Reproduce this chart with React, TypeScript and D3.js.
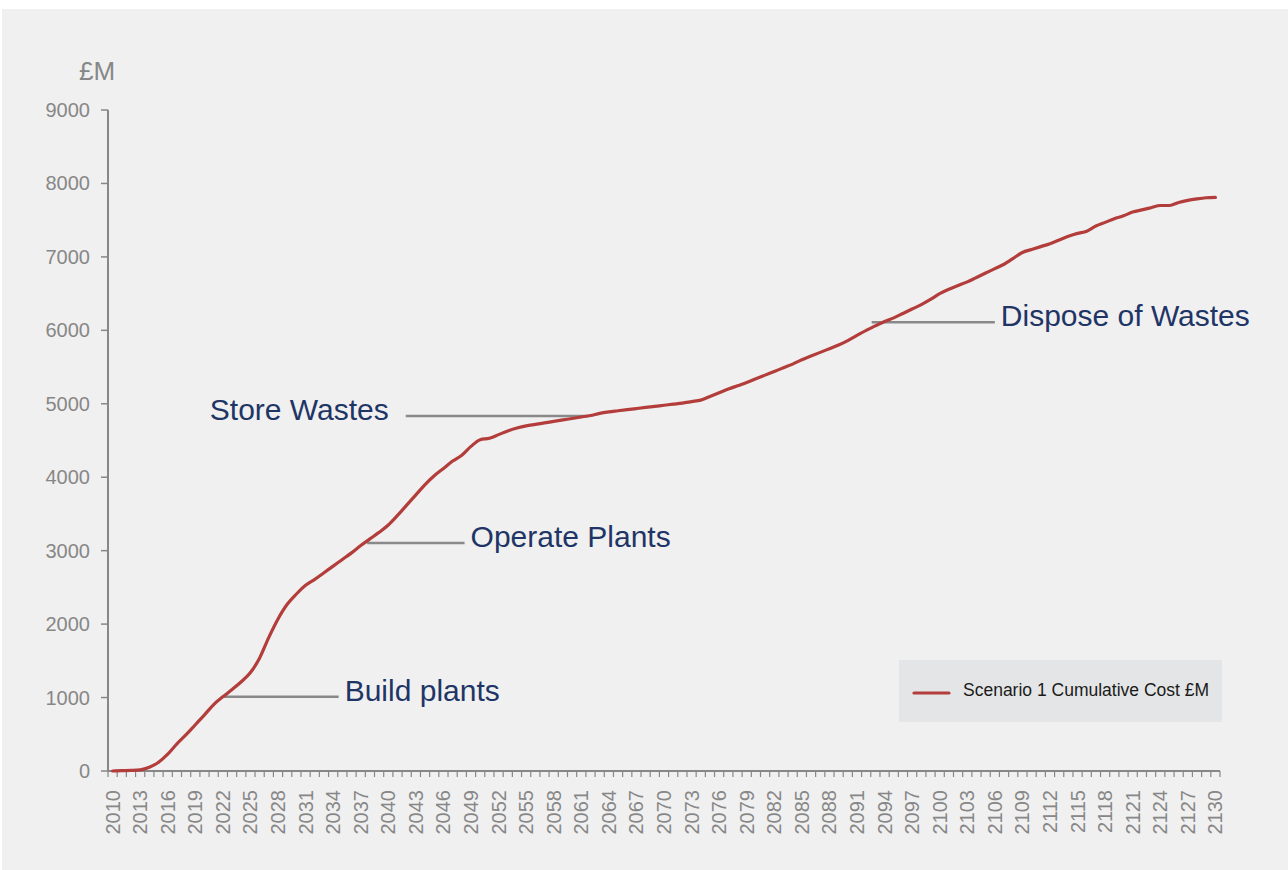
import React from "react";
import * as d3 from "d3";

const startYear = 2010;
const endYear = 2130;

// Scenario 1 cumulative cost (£M), one value per year 2010..2130
const cumulativeCost: number[] = [
  0, 5, 8, 15, 50, 120, 230, 370, 495, 630,
  765, 905, 1010, 1110, 1215, 1340, 1540, 1820, 2070, 2270,
  2410, 2530, 2610, 2700, 2790, 2880, 2970, 3070, 3160, 3250,
  3350, 3480, 3620, 3760, 3900, 4020, 4120, 4220, 4300, 4420,
  4510, 4530, 4580, 4630, 4670, 4700, 4720, 4740, 4760, 4780,
  4800, 4820, 4840, 4870, 4890, 4905, 4920, 4935, 4950, 4965,
  4980, 4995, 5010, 5030, 5050, 5100, 5150, 5200, 5245, 5290,
  5340, 5390, 5440, 5490, 5540, 5600, 5650, 5700, 5750, 5800,
  5860, 5930, 6000, 6060, 6120, 6170, 6230, 6290, 6350, 6420,
  6500, 6560, 6610, 6660, 6720, 6780, 6840, 6900, 6980, 7060,
  7100, 7140, 7180, 7230, 7280, 7320, 7350, 7420, 7470, 7520,
  7560, 7610, 7640, 7670, 7700, 7700, 7740, 7770, 7790, 7805,
  7810,
];

const years: number[] = d3.range(startYear, endYear + 1);
const yTicks: number[] = [0, 1000, 2000, 3000, 4000, 5000, 6000, 7000, 8000, 9000];
const xLabelYears: number[] = d3.range(startYear, endYear + 1, 3);

const annotationLabels: string[] = ["Build plants", "Operate Plants", "Store Wastes", "Dispose of Wastes"];
const annotationFrom: number[] = [2022.05, 2037.7, 2041.9, 2092.6];
const annotationTo: number[] = [2034.6, 2048.3, 2061.7, 2106.0];
const annotationValue: number[] = [1012, 3105, 4834, 6110];
const annotationTextSide: string[] = ["right", "right", "left", "right"];

const seriesName = "Scenario 1 Cumulative Cost £M";
const unitLabel = "£M";

export default function App() {
  const W = 1288;
  const H = 870;
  const left = 108;
  const right = 1220;
  const top = 110;
  const bottom = 771;

  const x = d3.scaleLinear().domain([startYear - 0.5, endYear + 0.5]).range([left, right]);
  const y = d3.scaleLinear().domain([0, 9000]).range([bottom, top]);

  const line = d3
    .line<number>()
    .x((_, i) => x(years[i]))
    .y((d) => y(d))
    .curve(d3.curveMonotoneX);

  const tickBounds = d3.range(startYear - 0.5, endYear + 1.5, 1);

  const font = "'Liberation Sans', Arial, sans-serif";
  const axisColor = "#878787";
  const lineColor = "#b23d3b";
  const navy = "#1f3566";

  return (
    <svg
      width={W}
      height={H}
      style={{ position: "absolute", left: 0, top: 0, display: "block" }}
      fontFamily={font}
    >
      <rect x={0} y={0} width={W} height={H} fill="#ffffff" />
      <rect x={2} y={9} width={W - 2} height={H - 9} fill="#f0f0f0" />

      {/* unit label */}
      <text x={79} y={80} fontSize={26} fill={axisColor}>
        {unitLabel}
      </text>

      {/* y axis */}
      <line x1={left} x2={left} y1={top} y2={bottom} stroke={axisColor} strokeWidth={2} />
      {yTicks.map((t) => (
        <g key={t}>
          <line x1={left - 7} x2={left} y1={y(t)} y2={y(t)} stroke={axisColor} strokeWidth={1.5} />
          <text x={90} y={y(t)} dy="0.35em" textAnchor="end" fontSize={20} fill={axisColor}>
            {t}
          </text>
        </g>
      ))}

      {/* x axis */}
      <line x1={left} x2={right} y1={bottom} y2={bottom} stroke={axisColor} strokeWidth={2} />
      {tickBounds.map((b) => (
        <line key={b} x1={x(b)} x2={x(b)} y1={bottom} y2={bottom + 6} stroke={axisColor} strokeWidth={1.2} />
      ))}
      {xLabelYears.map((yr) => (
        <text
          key={yr}
          transform={`translate(${x(yr)},${790}) rotate(-90)`}
          dy="0.35em"
          textAnchor="end"
          fontSize={20}
          fill={axisColor}
        >
          {yr}
        </text>
      ))}

      {/* annotation leaders */}
      {annotationLabels.map((lab, i) => {
        const yy = y(annotationValue[i]);
        const x1 = x(annotationFrom[i]);
        const x2 = x(annotationTo[i]);
        const side = annotationTextSide[i];
        return (
          <g key={lab}>
            <line x1={x1} x2={x2} y1={yy} y2={yy} stroke="#898989" strokeWidth={2.5} />
            <text
              x={side === "right" ? x2 + 6 : x1 - 17}
              y={yy + 4}
              textAnchor={side === "right" ? "start" : "end"}
              fontSize={30}
              fill={navy}
            >
              {lab}
            </text>
          </g>
        );
      })}

      {/* data line */}
      <path d={line(cumulativeCost) || ""} fill="none" stroke={lineColor} strokeWidth={3.2} strokeLinejoin="round" strokeLinecap="round" />

      {/* legend */}
      <rect x={899} y={660} width={323} height={62} fill="#e4e5e6" />
      <line x1={914} x2={949} y1={693} y2={693} stroke={lineColor} strokeWidth={3.2} strokeLinecap="round" />
      <text x={963} y={690} dy="0.35em" fontSize={17.5} fill="#1a1a1a">
        {seriesName}
      </text>
    </svg>
  );
}
